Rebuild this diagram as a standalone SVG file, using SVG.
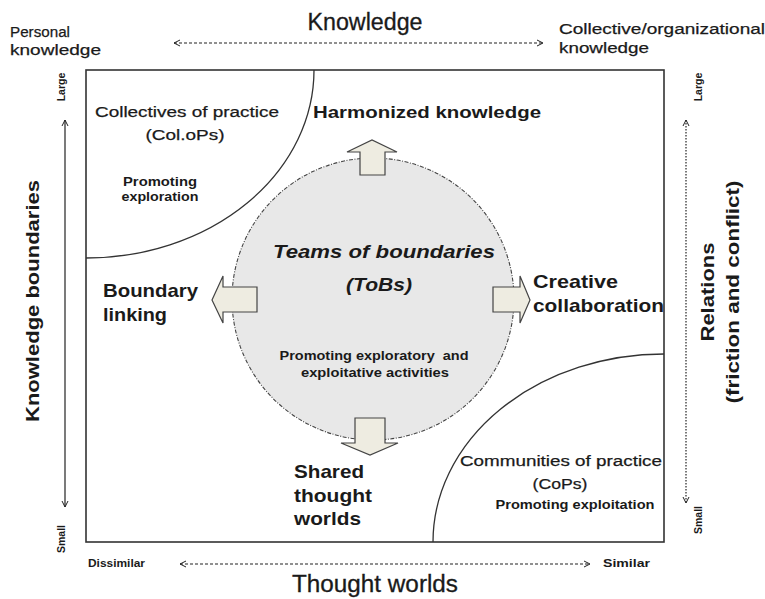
<svg xmlns="http://www.w3.org/2000/svg" width="765" height="599" viewBox="0 0 765 599">
<style>
text{font-family:"Liberation Sans",Arial,sans-serif;fill:#1a1a1a}
.r{font-size:15.5px;stroke:#1a1a1a;stroke-width:0.25}
.b{font-weight:bold}
.sm{font-size:12.5px;font-weight:bold}
.big{font-size:19px;font-weight:bold}
.ax{font-size:10.5px;font-weight:bold}
.frame{fill:none;stroke:#333;stroke-width:1.6}
.arc{fill:none;stroke:#333;stroke-width:1.3}
.blk{fill:#eeece1;stroke:#444;stroke-width:1.2}
.axl{fill:none;stroke:#222;stroke-width:1.2}
</style>
<defs>
<marker id="ah" viewBox="0 0 8 8" refX="7" refY="4" markerWidth="8" markerHeight="8" markerUnits="userSpaceOnUse" orient="auto-start-reverse">
<path d="M1,1 L7,4 L1,7" fill="none" stroke="#222" stroke-width="1"/>
</marker>
</defs>
<rect width="765" height="599" fill="#fff"/>

<g id="axis-top">
<text class="r" x="10" y="37" textLength="60" lengthAdjust="spacingAndGlyphs">Personal</text>
<text class="r" x="10" y="55" textLength="91" lengthAdjust="spacingAndGlyphs">knowledge</text>
<text x="365" y="30" text-anchor="middle" font-size="23" stroke="#1a1a1a" stroke-width="0.3" textLength="115" lengthAdjust="spacingAndGlyphs">Knowledge</text>
<text class="r" x="559" y="34" textLength="206" lengthAdjust="spacingAndGlyphs">Collective/organizational</text>
<text class="r" x="559" y="53" textLength="90" lengthAdjust="spacingAndGlyphs">knowledge</text>
</g>

<g id="axis-bottom">
<text class="ax" x="88" y="567" textLength="57" lengthAdjust="spacingAndGlyphs">Dissimilar</text>
<text class="ax" x="603" y="567" textLength="47" lengthAdjust="spacingAndGlyphs">Similar</text>
<text x="375" y="592" text-anchor="middle" font-size="23" stroke="#1a1a1a" stroke-width="0.3" textLength="166" lengthAdjust="spacingAndGlyphs">Thought worlds</text>
</g>

<g id="axis-left">
<text class="ax" transform="translate(65,87) rotate(-90)" text-anchor="middle">Large</text>
<text class="ax" transform="translate(65,539) rotate(-90)" text-anchor="middle">Small</text>
<text class="big" transform="translate(39,301) rotate(-90)" text-anchor="middle" textLength="242" lengthAdjust="spacingAndGlyphs">Knowledge boundaries</text>
</g>

<g id="axis-right">
<text class="ax" transform="translate(702,87) rotate(-90)" text-anchor="middle">Large</text>
<text class="ax" transform="translate(702,520) rotate(-90)" text-anchor="middle">Small</text>
<text class="big" transform="translate(714,292) rotate(-90)" text-anchor="middle" textLength="99" lengthAdjust="spacingAndGlyphs">Relations</text>
<text class="big" transform="translate(739,292) rotate(-90)" text-anchor="middle" textLength="223" lengthAdjust="spacingAndGlyphs">(friction and conflict)</text>
</g>

<g id="connectors">
<line class="axl" x1="174" y1="43" x2="543" y2="43" stroke-dasharray="3 2" marker-start="url(#ah)" marker-end="url(#ah)"/>
<line class="axl" x1="180" y1="564" x2="590" y2="564" stroke-dasharray="3 2" marker-start="url(#ah)" marker-end="url(#ah)"/>
<line class="axl" x1="65" y1="120" x2="65" y2="507" marker-start="url(#ah)" marker-end="url(#ah)"/>
<line class="axl" x1="686" y1="120" x2="686" y2="503" stroke-dasharray="1.5 1.5" marker-start="url(#ah)" marker-end="url(#ah)"/>
</g>

<g id="frame">
<rect class="frame" x="86" y="70" width="578" height="472"/>
</g>

<g id="colops">
<path class="arc" d="M314,70 A228,188 0 0 1 86,258"/>
<text class="r" x="187" y="117" text-anchor="middle" textLength="184" lengthAdjust="spacingAndGlyphs">Collectives of practice</text>
<text class="r" x="185" y="140" text-anchor="middle" textLength="79" lengthAdjust="spacingAndGlyphs">(Col.oPs)</text>
<text class="sm" x="160" y="186" text-anchor="middle" textLength="74" lengthAdjust="spacingAndGlyphs">Promoting</text>
<text class="sm" x="160" y="201" text-anchor="middle" textLength="77" lengthAdjust="spacingAndGlyphs">exploration</text>
</g>

<g id="cops">
<path class="arc" d="M433,542 A231,188 0 0 1 664,354"/>
<text class="r" x="561" y="466" text-anchor="middle" textLength="202" lengthAdjust="spacingAndGlyphs">Communities of practice</text>
<text class="r" x="560" y="489" text-anchor="middle" textLength="55" lengthAdjust="spacingAndGlyphs">(CoPs)</text>
<text class="sm" x="575" y="509" text-anchor="middle" textLength="159" lengthAdjust="spacingAndGlyphs">Promoting exploitation</text>
</g>

<g id="tobs">
<circle cx="373" cy="299" r="141" fill="#e8e8e8" stroke="#444" stroke-width="1.1" stroke-dasharray="4 1.5 1 1.5"/>
<text x="384" y="258" text-anchor="middle" font-size="19" font-weight="bold" font-style="italic" textLength="222" lengthAdjust="spacingAndGlyphs">Teams of boundaries</text>
<text x="379" y="291" text-anchor="middle" font-size="19" font-weight="bold" font-style="italic" textLength="66" lengthAdjust="spacingAndGlyphs">(ToBs)</text>
<text class="sm" x="374" y="360" text-anchor="middle" font-size="12" textLength="189" lengthAdjust="spacingAndGlyphs">Promoting exploratory&#160; and</text>
<text class="sm" x="375" y="377" text-anchor="middle" font-size="12" textLength="148" lengthAdjust="spacingAndGlyphs">exploitative activities</text>
</g>

<g id="harmonized">
<polygon class="blk" points="360,175 360,152 347,152 372,140 397,152 385,152 385,175"/>
<text x="427" y="118" text-anchor="middle" font-size="17" font-weight="bold" textLength="228" lengthAdjust="spacingAndGlyphs">Harmonized knowledge</text>
</g>

<g id="boundary-linking">
<polygon class="blk" points="257,287 257,312 223,312 223,323 212,300 223,276 223,287"/>
<text class="big" x="103" y="297" textLength="95" lengthAdjust="spacingAndGlyphs">Boundary</text>
<text class="big" x="103" y="321" textLength="64" lengthAdjust="spacingAndGlyphs">linking</text>
</g>

<g id="creative-collaboration">
<polygon class="blk" points="493,287 520,287 520,276 530,300 520,323 520,312 493,312"/>
<text class="big" x="533" y="288" textLength="85" lengthAdjust="spacingAndGlyphs">Creative</text>
<text class="big" x="533" y="312" textLength="131" lengthAdjust="spacingAndGlyphs">collaboration</text>
</g>

<g id="shared-thought-worlds">
<polygon class="blk" points="355,418 385,418 385,443 398,443 370,455 341,443 355,443"/>
<text class="big" x="294" y="478" textLength="70" lengthAdjust="spacingAndGlyphs">Shared</text>
<text class="big" x="294" y="502" textLength="78" lengthAdjust="spacingAndGlyphs">thought</text>
<text class="big" x="294" y="525" textLength="67" lengthAdjust="spacingAndGlyphs">worlds</text>
</g>
</svg>
